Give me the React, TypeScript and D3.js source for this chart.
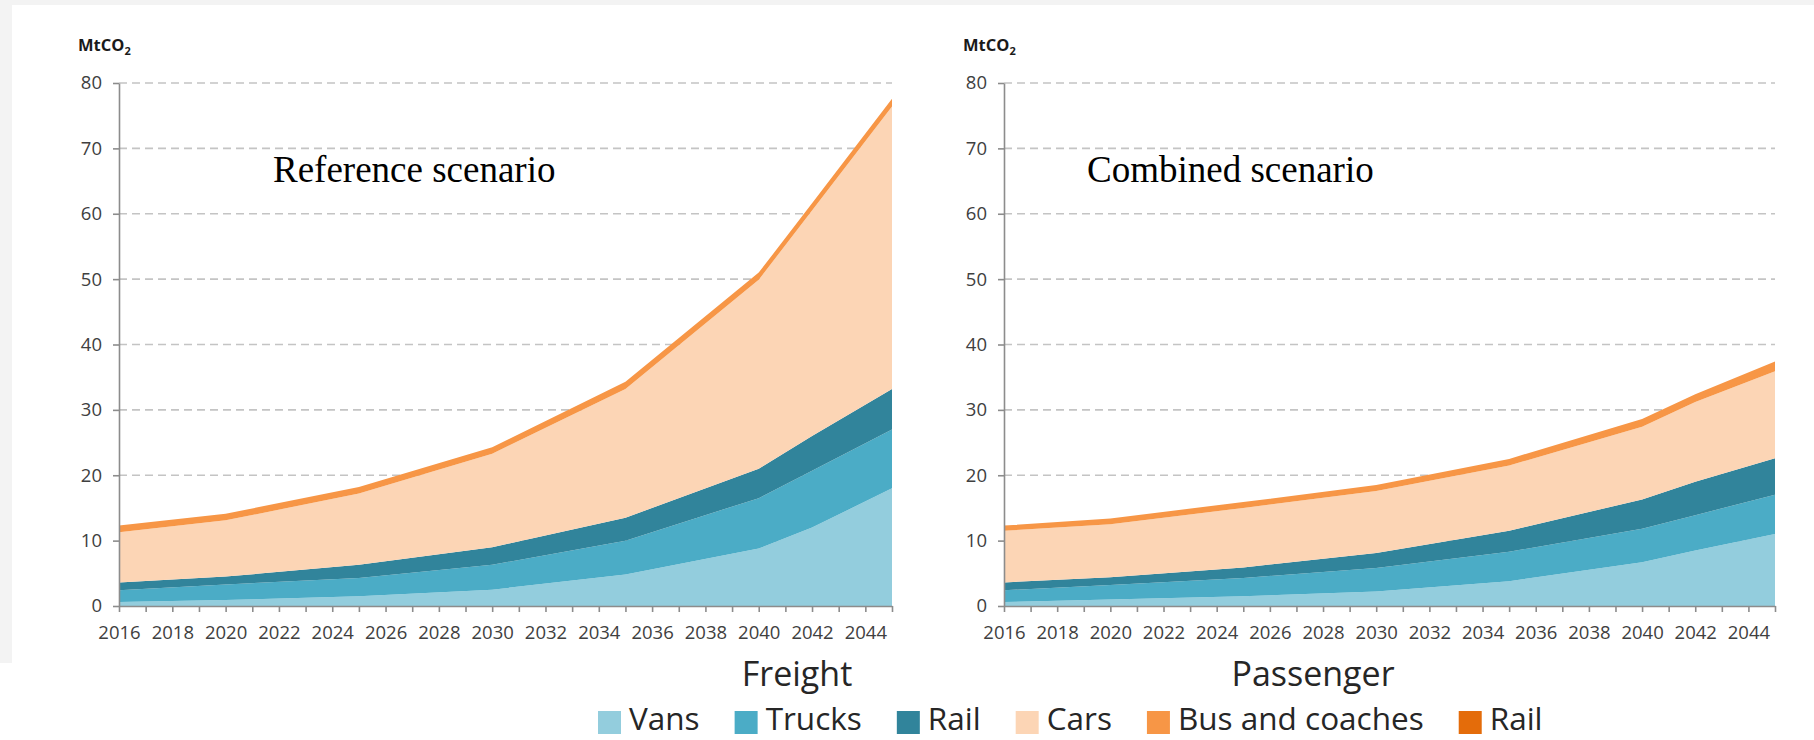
import React, { useEffect, useRef } from "react";
import * as d3 from "d3";

// ---------- data ----------
const years = [2016, 2020, 2025, 2030, 2035, 2040, 2042, 2045];

const seriesKeys = ["vans", "trucks", "railFreight", "cars", "bus", "railPassenger"];
const seriesNames = ["Vans", "Trucks", "Rail", "Cars", "Bus and coaches", "Rail"];
const seriesColors = ["#93cddd", "#4bacc6", "#31849b", "#fcd5b5", "#f79646", "#e46c0a"];

// Reference scenario (MtCO2)
const refVans = [0.6, 0.9, 1.5, 2.5, 4.8, 8.8, 12.0, 18.0];
const refTrucks = [1.8, 2.4, 2.8, 3.8, 5.2, 7.7, 8.7, 9.0];
const refRailFreight = [1.2, 1.2, 2.0, 2.7, 3.5, 4.5, 5.3, 6.2];
const refCars = [7.7, 8.6, 10.9, 14.3, 19.7, 28.9, 34.5, 43.2];
const refBus = [1.0, 1.0, 1.0, 1.0, 1.1, 1.1, 1.1, 1.2];
const refRailPassenger = [0, 0, 0, 0, 0, 0, 0, 0];

// Combined scenario (MtCO2)
const combVans = [0.6, 1.0, 1.5, 2.2, 3.8, 6.7, 8.5, 11.0];
const combTrucks = [1.8, 2.2, 2.8, 3.6, 4.5, 5.1, 5.4, 6.0];
const combRailFreight = [1.2, 1.2, 1.6, 2.3, 3.2, 4.5, 5.1, 5.6];
const combCars = [7.9, 8.1, 9.1, 9.5, 10.0, 11.1, 12.2, 13.3];
const combBus = [0.8, 0.9, 0.9, 0.9, 1.0, 1.2, 1.2, 1.5];
const combRailPassenger = [0, 0, 0, 0, 0, 0, 0, 0];

const yTicks = [0, 10, 20, 30, 40, 50, 60, 70, 80];
const xTickYears = [
  2016, 2017, 2018, 2019, 2020, 2021, 2022, 2023, 2024, 2025, 2026, 2027, 2028, 2029, 2030,
  2031, 2032, 2033, 2034, 2035, 2036, 2037, 2038, 2039, 2040, 2041, 2042, 2043, 2044, 2045,
];
const xLabelYears = [2016, 2018, 2020, 2022, 2024, 2026, 2028, 2030, 2032, 2034, 2036, 2038, 2040, 2042, 2044];

const scenarioTitles = ["Reference scenario", "Combined scenario"];
const groupTitles = ["Freight", "Passenger"];

// ---------- layout ----------
const W = 1814;
const H = 740;
const Y0 = 606;
const Y80 = 83;
const panels = [
  {
    x0: 119,
    x1: 892,
    title: scenarioTitles[0],
    titleX: 273,
    series: [refVans, refTrucks, refRailFreight, refCars, refBus, refRailPassenger],
  },
  {
    x0: 1004,
    x1: 1775,
    title: scenarioTitles[1],
    titleX: 1087,
    series: [combVans, combTrucks, combRailFreight, combCars, combBus, combRailPassenger],
  },
];

const FONT = "'Open Sans', 'DejaVu Sans', sans-serif";
const TICK_COLOR = "#404040";
const AXIS_COLOR = "#8c8c8c";

export default function App() {
  const ref = useRef<SVGSVGElement>(null);

  useEffect(() => {
    const svg = d3.select(ref.current);
    svg.selectAll("*").remove();

    svg.append("rect").attr("width", W).attr("height", H).attr("fill", "#ffffff");
    svg.append("rect").attr("x", 0).attr("y", 0).attr("width", W).attr("height", 5).attr("fill", "#f3f3f3");
    svg.append("rect").attr("x", 0).attr("y", 0).attr("width", 12).attr("height", 663).attr("fill", "#f3f3f3");

    panels.forEach((p) => {
      const g = svg.append("g");
      const x = d3.scaleLinear().domain([2016, 2045]).range([p.x0, p.x1]);
      const y = d3.scaleLinear().domain([0, 80]).range([Y0, Y80]);

      // grid
      g.append("g")
        .selectAll("line")
        .data(yTicks.filter((t) => t > 0))
        .join("line")
        .attr("x1", p.x0)
        .attr("x2", p.x1)
        .attr("y1", (d) => y(d))
        .attr("y2", (d) => y(d))
        .attr("stroke", "#c4c4c4")
        .attr("stroke-width", 1.6)
        .attr("stroke-dasharray", "8,5");

      // stacked areas
      const rows = years.map((yr, i) => {
        const r: any = { year: yr };
        seriesKeys.forEach((k, j) => (r[k] = p.series[j][i]));
        return r;
      });
      const stack = d3.stack<any>().keys(seriesKeys)(rows);
      const area = d3
        .area<any>()
        .x((d) => x(d.data.year))
        .y0((d) => y(d[0]))
        .y1((d) => y(d[1]))
        .curve(d3.curveLinear);
      g.append("g")
        .selectAll("path")
        .data(stack)
        .join("path")
        .attr("d", area as any)
        .attr("fill", (_d, i) => seriesColors[i]);

      // y axis
      const ya = g
        .append("g")
        .attr("transform", `translate(${p.x0},0)`)
        .call(
          d3
            .axisLeft(y)
            .tickValues(yTicks)
            .tickSize(6)
            .tickSizeOuter(0)
            .tickPadding(11)
            .tickFormat((d) => String(d))
        );
      ya.select(".domain").attr("stroke", AXIS_COLOR).attr("stroke-width", 1.6);
      ya.selectAll(".tick line").attr("stroke", AXIS_COLOR).attr("stroke-width", 1.6);
      ya.selectAll(".tick text")
        .attr("fill", TICK_COLOR)
        .attr("font-family", FONT)
        .attr("font-size", 18.5);

      // x axis
      const xa = g
        .append("g")
        .attr("transform", `translate(0,${Y0})`)
        .call(
          d3
            .axisBottom(x)
            .tickValues(xTickYears)
            .tickSize(6)
            .tickSizeOuter(0)
            .tickPadding(14)
            .tickFormat((d) => (xLabelYears.includes(d as number) ? String(d) : ""))
        );
      xa.select(".domain").attr("stroke", AXIS_COLOR).attr("stroke-width", 1.6);
      xa.selectAll(".tick line").attr("stroke", AXIS_COLOR).attr("stroke-width", 1.6);
      xa.selectAll(".tick text")
        .attr("fill", TICK_COLOR)
        .attr("font-family", FONT)
        .attr("font-size", 18.5);

      // unit label
      const u = g
        .append("text")
        .attr("x", p.x0 - 41)
        .attr("y", 51)
        .attr("font-family", FONT)
        .attr("font-weight", 700)
        .attr("font-size", 16.5)
        .attr("fill", "#1a1a1a");
      u.append("tspan").text("MtCO");
      u.append("tspan").attr("font-size", 11).attr("dy", 4).text("2");

      // scenario title
      g.append("text")
        .attr("x", p.titleX)
        .attr("y", 182)
        .attr("font-family", "'Liberation Serif', 'Times New Roman', serif")
        .attr("font-size", 37)
        .attr("fill", "#000")
        .text(p.title);
    });

    // group titles
    const gx = [797, 1313];
    groupTitles.forEach((t, i) => {
      svg
        .append("text")
        .attr("x", gx[i])
        .attr("y", 686)
        .attr("text-anchor", "middle")
        .attr("font-family", FONT)
        .attr("font-size", 34)
        .attr("fill", "#262626")
        .text(t);
    });

    // legend
    const lg = svg.append("g");
    let cx = 598;
    seriesNames.forEach((name, i) => {
      lg.append("rect")
        .attr("x", cx)
        .attr("y", 711)
        .attr("width", 23)
        .attr("height", 23)
        .attr("fill", seriesColors[i]);
      const t = lg
        .append("text")
        .attr("x", cx + 31)
        .attr("y", 730)
        .attr("font-family", FONT)
        .attr("font-size", 31.5)
        .attr("fill", "#262626")
        .text(name);
      const w = (t.node() as SVGTextElement).getComputedTextLength();
      cx = cx + 31 + w + 35;
    });
  }, []);

  return (
    <svg
      ref={ref}
      width={W}
      height={H}
      style={{ position: "absolute", left: 0, top: 0, display: "block" }}
    />
  );
}
